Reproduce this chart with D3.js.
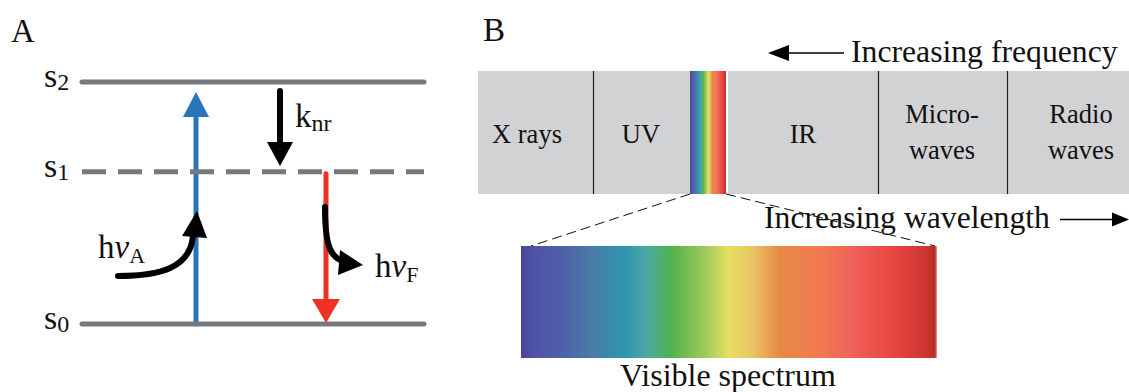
<!DOCTYPE html>
<html>
<head>
<meta charset="utf-8">
<script src="https://cdn.jsdelivr.net/npm/d3@7"></script>
<style>
  html, body { margin: 0; padding: 0; background: #fff; }
  svg { display: block; }
</style>
</head>
<body>
<svg id="fig" width="1129" height="392"></svg>
<script>
// ---- Panel A: Jablonski diagram ----
const levelNames = ["s", "s", "s"];
const levelSubs = ["0", "1", "2"];
const levelEnergy = [0, 1, 1.59];
const levelDashed = [false, true, false];

// ---- Panel B: electromagnetic spectrum ----
const regionNames = [["X rays"], ["UV"], [], ["IR"], ["Micro-", "waves"], ["Radio", "waves"]];
const regionBounds = [0, 115, 212, 250, 400, 529, 651];
const regionLabelPos = [49, 163, null, 325, 464, 603];

// visible spectrum colour stops (offset 0..1)
const spectrumOffsets = [0, 0.04, 0.10, 0.17, 0.25, 0.30, 0.36, 0.45, 0.50, 0.56, 0.62, 0.72, 0.80, 0.90, 0.97, 0.995, 1];
const spectrumColors = ["#4a459c", "#4f56a6", "#5060aa", "#4a7ba8", "#2f95b0", "#4ba8a8", "#4fb24b", "#a6cc5c", "#e6e062",
                        "#eac263", "#e58a46", "#f27a50", "#ef6158", "#e84440", "#cf3530", "#b82e28", "#f0a0a0"];

const SERIF = "'Liberation Serif', 'Times New Roman', Tinos, 'DejaVu Serif', serif";

const svg = d3.select("#fig")
  .attr("font-family", SERIF)
  .style("font-family", SERIF);

// gradient definition
const defs = svg.append("defs");
const grad = defs.append("linearGradient").attr("id", "vis").attr("x1", "0%").attr("x2", "100%").attr("y1", "0%").attr("y2", "0%");
grad.selectAll("stop").data(spectrumOffsets).join("stop")
  .attr("offset", d => d)
  .attr("stop-color", (d, i) => spectrumColors[i]);

function label(g, x, y, size) {
  return g.append("text").attr("x", x).attr("y", y)
    .attr("font-size", size).attr("fill", "#111")
    .style("font-family", SERIF);
}

// ================= Panel A =================
const gA = svg.append("g");
label(gA, 11, 42, 33).text("A");

const yE = d3.scaleLinear().domain([0, 1.59]).range([324, 82]);
const xL = d3.scaleLinear().domain([0, 1]).range([82, 424]);

const arrowX = { abs: 196, nr: 280, fl: 326 };

// absorption (blue), drawn below the level lines
gA.append("line")
  .attr("x1", arrowX.abs).attr("x2", arrowX.abs)
  .attr("y1", yE(0)).attr("y2", 115)
  .attr("stroke", "#2a74ba").attr("stroke-width", 5).attr("stroke-linecap", "round");
gA.append("path")
  .attr("d", `M${arrowX.abs - 13},117 L${arrowX.abs + 13},117 L${arrowX.abs},92 Z`)
  .attr("fill", "#2a74ba");

// energy levels
gA.selectAll("line.level").data(levelEnergy).join("line")
  .attr("class", "level")
  .attr("x1", xL(0)).attr("x2", xL(1))
  .attr("y1", d => yE(d)).attr("y2", d => yE(d))
  .attr("stroke", "#77787b").attr("stroke-width", 5)
  .attr("stroke-linecap", (d, i) => levelDashed[i] ? "butt" : "round")
  .attr("stroke-dasharray", (d, i) => levelDashed[i] ? "24,12" : null);

// level labels
levelEnergy.forEach((e, i) => {
  const t = label(gA, 44, yE(e) + 5, 34);
  t.append("tspan").text(levelNames[i]);
  t.append("tspan").attr("font-size", 24).attr("dy", 3).text(levelSubs[i]);
});

// fluorescence (red)
gA.append("line")
  .attr("x1", arrowX.fl).attr("x2", arrowX.fl)
  .attr("y1", yE(1) + 2).attr("y2", 300)
  .attr("stroke", "#ee3124").attr("stroke-width", 5).attr("stroke-linecap", "round");
gA.append("path")
  .attr("d", `M${arrowX.fl - 14},299 L${arrowX.fl + 14},299 L${arrowX.fl},323 Z`)
  .attr("fill", "#ee3124");

// non-radiative decay
gA.append("line")
  .attr("x1", arrowX.nr).attr("x2", arrowX.nr)
  .attr("y1", 91).attr("y2", 143)
  .attr("stroke", "#000").attr("stroke-width", 6).attr("stroke-linecap", "round");
gA.append("path")
  .attr("d", `M${arrowX.nr - 13},142 L${arrowX.nr + 13},142 L${arrowX.nr},166 Z`)
  .attr("fill", "#000");
const tk = label(gA, 295, 127, 33);
tk.append("tspan").text("k");
tk.append("tspan").attr("font-size", 24).attr("dy", 4).text("nr");

// absorbed photon (curved arrow)
gA.append("path")
  .attr("d", "M118,276 C160,276 190,268 193,236")
  .attr("fill", "none").attr("stroke", "#000").attr("stroke-width", 6).attr("stroke-linecap", "round");
gA.append("path").attr("d", "M182,236 L207,238 L197,211 Z").attr("fill", "#000");
const ta = label(gA, 98, 258, 33);
ta.append("tspan").text("h");
ta.append("tspan").attr("font-style", "italic").text("ν");
ta.append("tspan").attr("font-size", 22).attr("dy", 5).text("A");

// emitted photon (curved arrow)
gA.append("path")
  .attr("d", "M325,207 C325,245 330,259 346,262")
  .attr("fill", "none").attr("stroke", "#000").attr("stroke-width", 6).attr("stroke-linecap", "round");
gA.append("path").attr("d", "M340,250 L338,275 L363,265 Z").attr("fill", "#000");
const tf = label(gA, 375, 277, 33);
tf.append("tspan").text("h");
tf.append("tspan").attr("font-style", "italic").text("ν");
tf.append("tspan").attr("font-size", 22).attr("dy", 5).text("F");

// ================= Panel B =================
const gB = svg.append("g");
label(gB, 483, 41, 33).text("B");

const xB = d3.scaleLinear().domain([0, 651]).range([478, 1129]);
const bandTop = 71, bandBot = 194;

gB.append("rect")
  .attr("x", xB(0)).attr("y", bandTop)
  .attr("width", xB(651) - xB(0)).attr("height", bandBot - bandTop)
  .attr("fill", "#d1d2d4");

// narrow visible strip
gB.append("rect")
  .attr("x", xB(regionBounds[2])).attr("y", bandTop)
  .attr("width", xB(regionBounds[3]) - xB(regionBounds[2]) - 2).attr("height", bandBot - bandTop)
  .attr("fill", "url(#vis)");
gB.append("rect")
  .attr("x", xB(regionBounds[3]) - 2).attr("y", bandTop)
  .attr("width", 2).attr("height", bandBot - bandTop)
  .attr("fill", "#fff");

// dividers
const dividers = [regionBounds[1], regionBounds[4], regionBounds[5]];
gB.selectAll("line.div").data(dividers).join("line")
  .attr("class", "div")
  .attr("x1", d => xB(d) + 0.5).attr("x2", d => xB(d) + 0.5)
  .attr("y1", bandTop).attr("y2", bandBot)
  .attr("stroke", "#222").attr("stroke-width", 1.2);

// region labels
regionNames.forEach((lines, i) => {
  if (!lines.length) return;
  const cx = xB(regionLabelPos[i]);
  const y0 = lines.length === 1 ? 143 : 123;
  lines.forEach((t, j) => {
    label(gB, cx, y0 + j * 36, 26.5).attr("text-anchor", "middle").text(t);
  });
});

// frequency arrow
gB.append("line").attr("x1", 786).attr("x2", 844).attr("y1", 53).attr("y2", 53)
  .attr("stroke", "#000").attr("stroke-width", 1.5);
gB.append("path").attr("d", "M768,53 L789,45 L789,61 Z").attr("fill", "#000");
label(gB, 851, 62, 31.7).text("Increasing frequency");

// wavelength arrow
label(gB, 764, 228, 31.7).text("Increasing wavelength");
gB.append("line").attr("x1", 1060).attr("x2", 1115).attr("y1", 219.5).attr("y2", 219.5)
  .attr("stroke", "#000").attr("stroke-width", 1.5);
gB.append("path").attr("d", "M1129,219.5 L1112,212.5 L1112,226.5 Z").attr("fill", "#000");

// expanded visible spectrum
const vis = { x0: 521, x1: 937, y0: 246, y1: 358 };
gB.append("line").attr("x1", xB(regionBounds[2])).attr("y1", bandBot).attr("x2", vis.x0 + 10).attr("y2", vis.y0)
  .attr("stroke", "#111").attr("stroke-width", 1).attr("stroke-dasharray", "10,5");
gB.append("line").attr("x1", xB(regionBounds[3]) - 2).attr("y1", bandBot).attr("x2", vis.x1 - 2).attr("y2", vis.y0)
  .attr("stroke", "#111").attr("stroke-width", 1).attr("stroke-dasharray", "10,5");
gB.append("rect")
  .attr("x", vis.x0).attr("y", vis.y0)
  .attr("width", vis.x1 - vis.x0).attr("height", vis.y1 - vis.y0)
  .attr("fill", "url(#vis)");
label(gB, 728, 386, 32).attr("text-anchor", "middle").text("Visible spectrum");
</script>
</body>
</html>
